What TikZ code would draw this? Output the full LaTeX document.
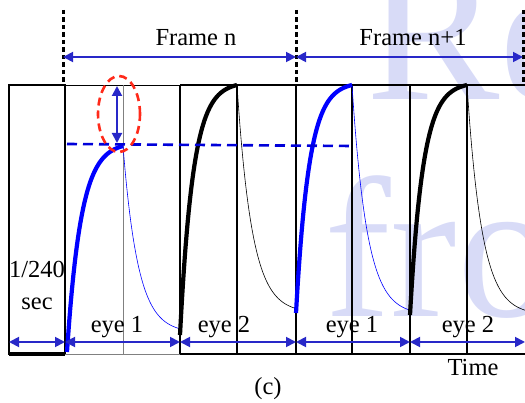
\documentclass[tikz,border=0pt]{standalone}
\usepackage{fontspec}
\setmainfont{Liberation Serif}
\usetikzlibrary{arrows.meta,calc}
\definecolor{wmark}{HTML}{D8DBF7}
\definecolor{arrblue}{HTML}{2828C8}
\definecolor{lcblue}{HTML}{0000FF}
\definecolor{ovalred}{HTML}{FF2A1A}
\tikzset{
  >={Triangle[length=10pt,width=10pt]},
  every node/.style={font=\fontsize{24.5}{28}\selectfont,inner sep=0pt},
  span/.style={<->,arrblue,line width=1.8pt},
  slot/.style={black,line width=2.2pt},
  framesep/.style={black,line width=3pt,dash pattern=on 4.5pt off 3pt},
  rise/.style={line width=4.2pt},
  decay/.style={line width=0.6pt},
}

\begin{document}
\begin{tikzpicture}[x=1pt,y=-1pt]
  \useasboundingbox (0,0) rectangle (525,403);
  % watermark behind everything
  \begin{scope}
    \clip (0,0) rectangle (525,403);
    \node[wmark,anchor=base west,font=\fontsize{200}{200}\selectfont] (wmre) at (366,100) {Re};
    \node[wmark,anchor=base west,font=\fontsize{200}{200}\selectfont] (wmfro) at (324,317) {fro};
  \end{scope}
  % slot borders
  \foreach \i/\x in {0/9,1/65,2/123,3/180,4/237,5/296,6/352,7/410,8/467,9/525}{
    \coordinate (t\i) at (\x,85);
    \coordinate (b\i) at (\x,354);
    \coordinate (a\i) at (\x,342);
  }
  \draw[slot] (t0) rectangle (b1);
  \draw[black,line width=3.6pt] (b0) -- (b1);
  \draw[black,line width=0.6pt] (t1) -- (t3);
  \draw[gray,line width=0.6pt] (b1) -- (b3) (t2) -- (b2);
  \draw[slot] (t3) -- (t9) (b3) -- (b9);
  \foreach \i in {3,...,8} \draw[slot] (t\i) -- (b\i);
  % frame boundaries
  \foreach \i/\x in {0/63,1/296,2/523}{
    \coordinate (fu\i) at (\x,10);
    \coordinate (fd\i) at (\x,85);
    \coordinate (fa\i) at (\x,57);
    \draw[framesep] (fu\i) -- (fd\i);
  }
  \draw[span] (fa0) -- (fa1);
  \draw[span] (fa1) -- (fa2);
  \node[anchor=base] (frn) at (196,46) {Frame n};
  \node[anchor=base] (frn1) at (413,46) {Frame n+1};
  % luminance curves
  \draw[rise,lcblue] plot[domain=0:56,samples=60] ({67+\x},{352-206*(1-exp(-\x/14))/(1-exp(-4))});
  \draw[decay,lcblue] plot[domain=0:57,samples=60] ({123+\x},{333-187*exp(-\x/15)});
  \draw[rise,black] plot[domain=0:57,samples=60] ({180+\x},{335-250*(1-exp(-\x/13))/(1-exp(-57/13))});
  \draw[decay,black] plot[domain=0:57,samples=60] ({237+\x},{313-228*exp(-\x/15)});
  \draw[rise,lcblue] plot[domain=0:56,samples=60] ({296+\x},{313-228*(1-exp(-\x/13))/(1-exp(-56/13))});
  \draw[decay,lcblue] plot[domain=0:58,samples=60] ({352+\x},{315-230*exp(-\x/15)});
  \draw[rise,black] plot[domain=0:57,samples=60] ({410+\x},{315-230*(1-exp(-\x/13))/(1-exp(-57/13))});
  \draw[decay,black] plot[domain=0:58,samples=60] ({467+\x},{315-230*exp(-\x/15)});
  % luminance loss marker
  \coordinate (lvl0) at (67,144);
  \coordinate (lvl1) at (352,146);
  \draw[lcblue!85!black,line width=2.6pt,dash pattern=on 10pt off 6pt] (lvl0) -- (lvl1);
  \coordinate (gtop) at (117,86);
  \coordinate (gbot) at (117,143);
  \draw[span,line width=2pt] (gtop) -- (gbot);
  \draw[ovalred,line width=2.6pt,dash pattern=on 8pt off 5pt] (119,114) ellipse [x radius=21pt,y radius=38pt];
  % time slots
  \draw[span] (a0) -- (a1);
  \draw[span] (a1) -- (a3);
  \draw[span] (a3) -- (a5);
  \draw[span] (a5) -- (a7);
  \draw[span] (a7) -- (a9);
  \node[anchor=base] (per) at (37,278) {1/240};
  \node[anchor=base] (sec) at (37,310) {sec};
  \node[anchor=base] (e1a) at (117,333) {eye 1};
  \node[anchor=base] (e2a) at (224,333) {eye 2};
  \node[anchor=base] (e1b) at (352,333) {eye 1};
  \node[anchor=base] (e2b) at (468,333) {eye 2};
  \node[anchor=base] (time) at (473,375) {Time};
  \node[anchor=base] (cap) at (268,395) {(c)};
\end{tikzpicture}
\end{document}
